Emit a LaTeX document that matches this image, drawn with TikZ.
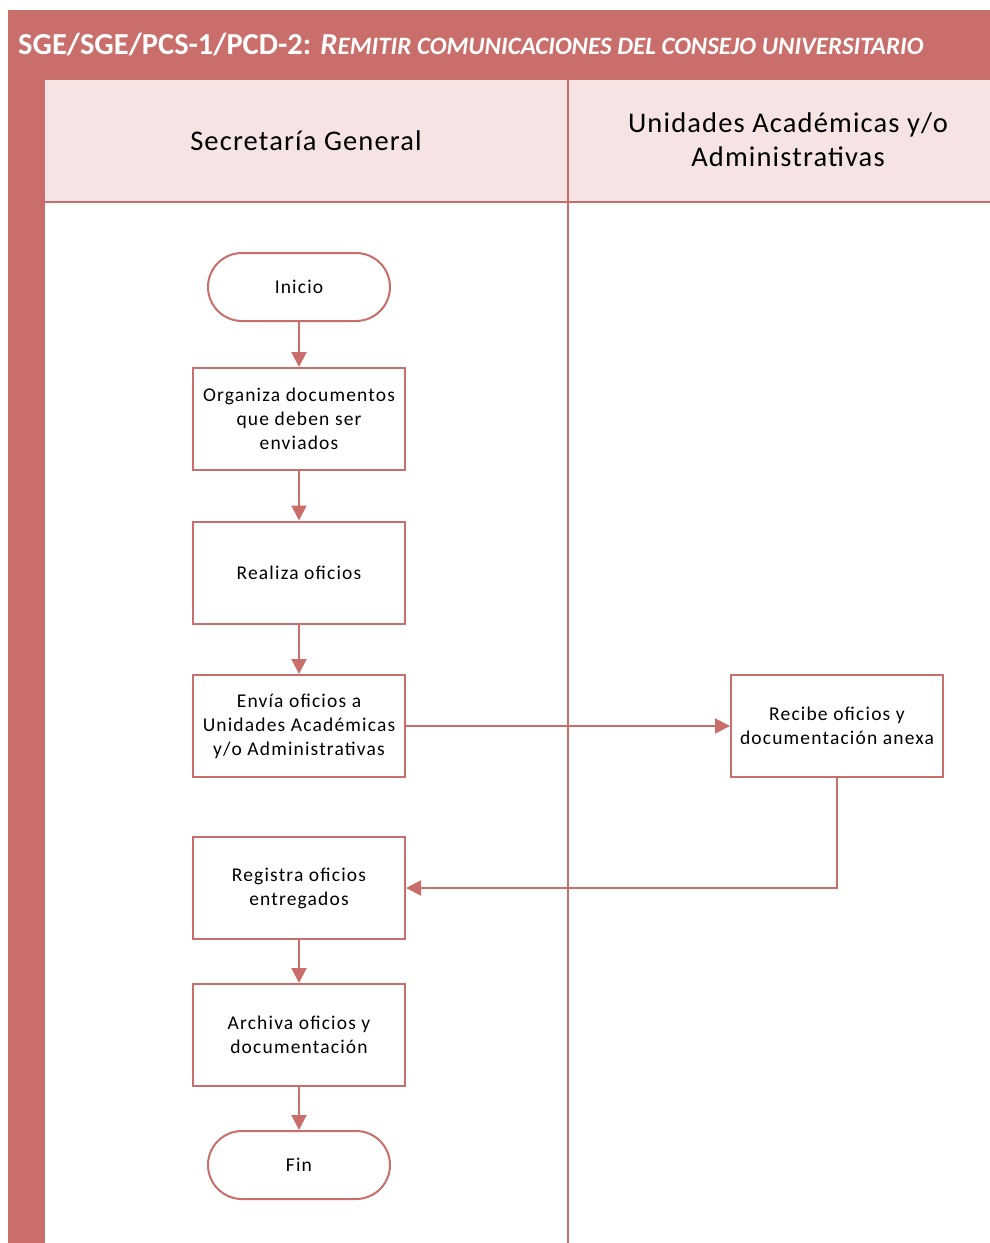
\documentclass[tikz,border=0pt]{standalone}
\usepackage{fontspec}
\setmainfont{Carlito}
\newfontfamily\boxfam[LetterSpace=6]{Carlito}
\newfontfamily\headfam[LetterSpace=4]{Carlito}
\usetikzlibrary{arrows.meta,shapes.misc}
\definecolor{lanered}{HTML}{C96E6A}
\definecolor{headpink}{HTML}{F6E4E4}
\definecolor{edgered}{HTML}{C96E6A}
\tikzset{
  stepbox/.style={draw=edgered, line width=2, fill=white, minimum width=212, minimum height=102,
    align=center, inner sep=0, font=\boxfam\fontsize{19.5}{24}\selectfont},
  term/.style={draw=edgered, line width=2, fill=white, rounded rectangle, minimum width=182, minimum height=68,
    inner sep=0, font=\boxfam\fontsize{19.5}{24}\selectfont},
  flow/.style={draw=edgered, line width=2, -{Triangle[length=15,width=15]}},
  lanetitle/.style={align=center, font=\headfam\fontsize{28.5}{34}\selectfont, inner sep=0},
}
\begin{document}
\begin{tikzpicture}[x=1pt,y=-1pt]
\useasboundingbox (0,0) rectangle (990,1243);
% frame
\fill[lanered] (8,10) rectangle (990,80);
\fill[lanered] (8,10) rectangle (45,1243);
\fill[headpink] (45,80) rectangle (990,202);
\draw[edgered, line width=2] (45,202) -- (990,202);
\draw[edgered, line width=2] (568,80) -- (568,1243);
% title
\node[anchor=base west, text=white, inner sep=0, font=\bfseries\fontsize{30.5}{34}\selectfont] (title) at (18,54)
  {SGE/SGE/PCS-1/PCD-2: \itshape R{\fontsize{25}{28}\selectfont EMITIR COMUNICACIONES DEL CONSEJO UNIVERSITARIO}};
% lane headers
\node[lanetitle] (laneA) at (306,141) {Secretaría General};
\node[lanetitle] (laneB) at (788,140) {Unidades Académicas y/o\\Administrativas};
% nodes
\node[term] (ini) at (299,287) {Inicio};
\node[stepbox] (b1) at (299,419) {Organiza documentos\\que deben ser\\enviados};
\node[stepbox] (b2) at (299,572.5) {Realiza oficios};
\node[stepbox] (b3) at (299,726) {Envía oficios a\\Unidades Académicas\\y/o Administrativas};
\node[stepbox] (b4) at (837,726) {Recibe oficios y\\documentación anexa};
\node[stepbox] (b5) at (299,888) {Registra oficios\\entregados};
\node[stepbox] (b6) at (299,1035) {Archiva oficios y\\documentación};
\node[term] (fin) at (299,1165) {Fin};
% connectors
\draw[flow] (ini) -- (b1);
\draw[flow] (b1) -- (b2);
\draw[flow] (b2) -- (b3);
\draw[flow] (b3) -- (b4);
\draw[flow] (b4.south) |- (b5.east);
\draw[flow] (b5) -- (b6);
\draw[flow] (b6) -- (fin);
\end{tikzpicture}
\end{document}
